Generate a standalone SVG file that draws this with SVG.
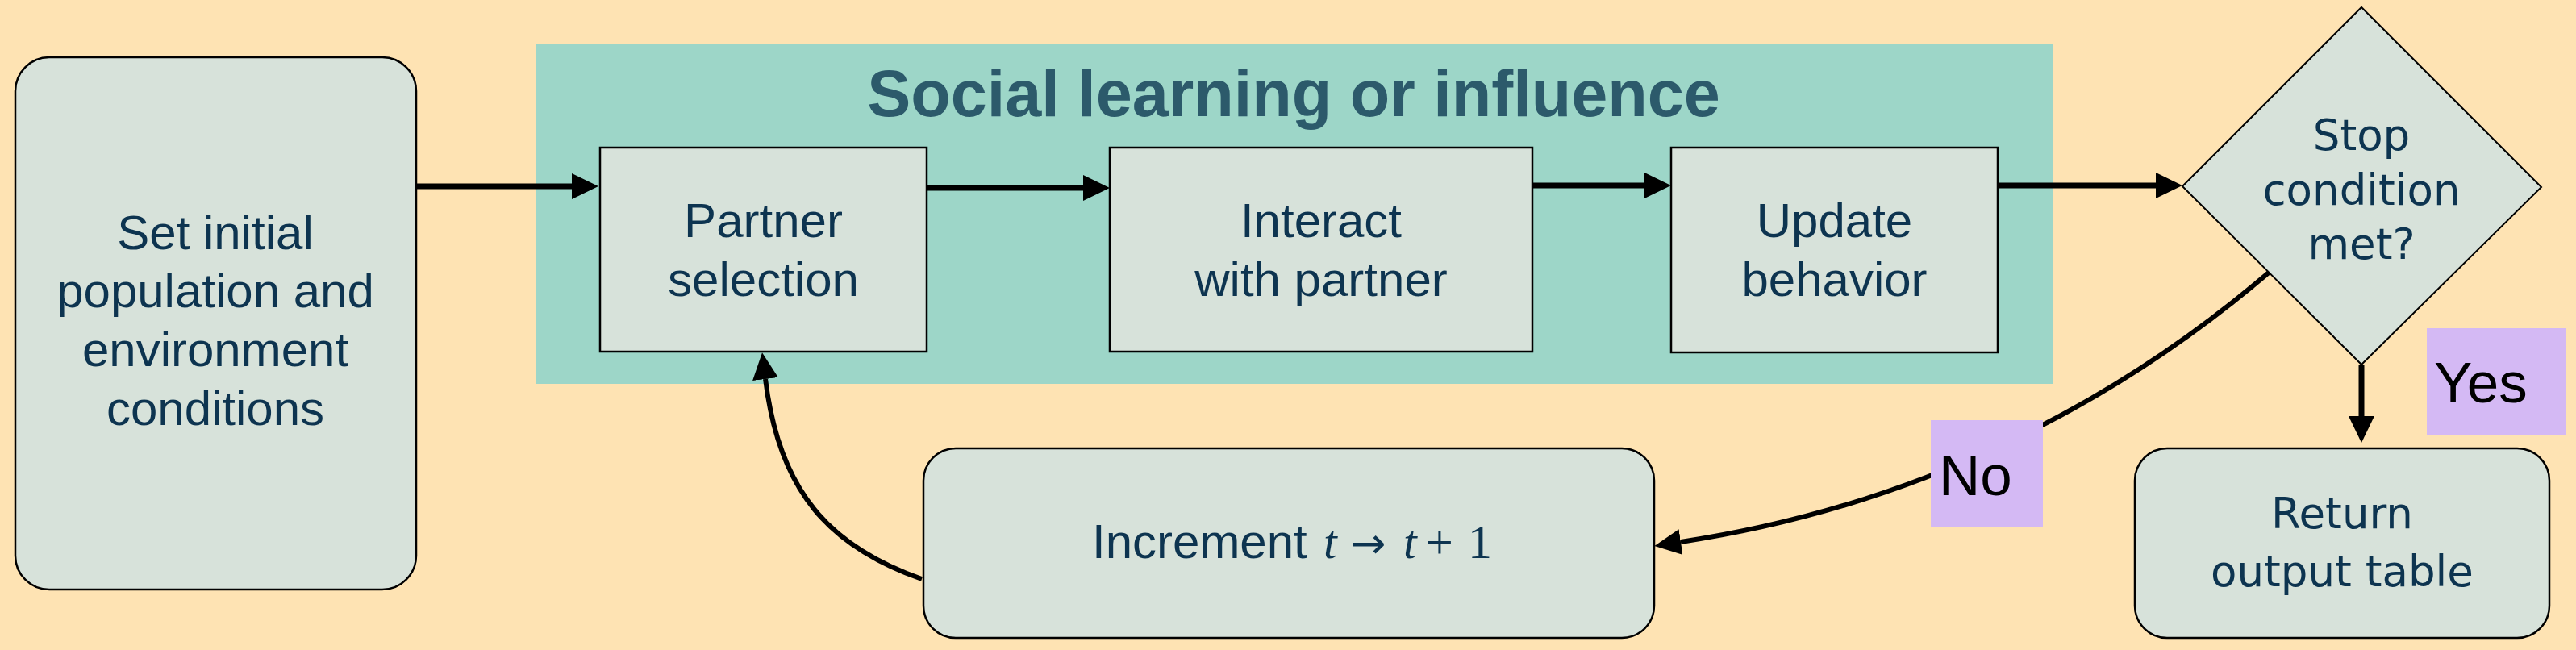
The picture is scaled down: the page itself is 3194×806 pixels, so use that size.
<svg xmlns="http://www.w3.org/2000/svg" width="3194" height="806" viewBox="0 0 3194 806">
<style>
  .bg { fill:#fee3b3; }
  .cluster { fill:#9dd6c8; }
  .title { font-family:"Liberation Sans", Arial, sans-serif; font-weight:bold; font-size:81px; fill:#2c5a6b; text-anchor:middle; }
  .box { fill:#d7e2da; stroke:#000; stroke-width:2.5; }
  .rbox { fill:#d7e2da; stroke:#000; stroke-width:2.5; }
  .lbl { font-family:"Liberation Sans", Arial, sans-serif; font-size:60px; fill:#0d3450; text-anchor:middle; }
  .lbl2 { font-family:"DejaVu Sans", Verdana, sans-serif; font-size:53px; fill:#0d3450; text-anchor:middle; }
  .math { font-family:"Liberation Serif", "Times New Roman", serif; font-size:60px; fill:#0d3450; }
  .edge { fill:none; stroke:#000; stroke-width:7; marker-end:url(#ah); }
  .curve { fill:none; stroke:#000; stroke-width:6; marker-end:url(#ah); }
  .elbl { fill:#d4b9f4; }
  .elbltxt { font-family:"Liberation Sans", Arial, sans-serif; font-size:71px; fill:#000; }
</style>
<defs>
  <marker id="ah" markerUnits="userSpaceOnUse" markerWidth="33" markerHeight="32" viewBox="0 0 33 32" refX="0" refY="16" orient="auto">
    <path d="M0,0 L33,16 L0,32 z" fill="#000"/>
  </marker>
</defs>

<rect class="bg" x="0" y="0" width="3194" height="806"/>

<g id="cluster-social">
  <rect class="cluster" x="664" y="55" width="1881" height="421"/>
  <text class="title" x="1604" y="144">Social learning or influence</text>
</g>

<g id="connectors">
  <path class="edge" d="M516,231 H709"/>
  <path class="edge" d="M1149,233 H1343"/>
  <path class="edge" d="M1900,230 H2039"/>
  <path class="edge" d="M2477,230 H2673"/>
  <path class="edge" d="M2928,452 V516"/>
  <path class="curve" d="M2813,338 C2623,500 2381,627 2084,672"/>
  <path class="curve" d="M1143,718 C1029,678 966,610 949,470"/>
</g>

<g id="node-start">
  <rect class="rbox" x="19" y="71" width="497" height="660" rx="42" ry="42"/>
  <text class="lbl" x="267" y="309">Set initial</text>
  <text class="lbl" x="267" y="381">population and</text>
  <text class="lbl" x="267" y="454">environment</text>
  <text class="lbl" x="267" y="527">conditions</text>
</g>

<g id="node-partner">
  <rect class="box" x="744" y="183" width="405" height="253"/>
  <text class="lbl" x="946.5" y="294">Partner</text>
  <text class="lbl" x="946.5" y="367">selection</text>
</g>

<g id="node-interact">
  <rect class="box" x="1376" y="183" width="524" height="253"/>
  <text class="lbl" x="1638" y="294">Interact</text>
  <text class="lbl" x="1638" y="367">with partner</text>
</g>

<g id="node-update">
  <rect class="box" x="2072" y="183" width="405" height="254"/>
  <text class="lbl" x="2274.5" y="294">Update</text>
  <text class="lbl" x="2274.5" y="367">behavior</text>
</g>

<g id="node-decision">
  <polygon points="2706,231 2928,9 3151,232 2928,452" fill="#d7e2da" stroke="#000" stroke-width="2"/>
  <text class="lbl2" x="2928" y="186">Stop</text>
  <text class="lbl2" x="2928" y="254">condition</text>
  <text class="lbl2" x="2928" y="321">met?</text>
</g>

<g id="node-increment">
  <rect class="rbox" x="1145" y="556" width="906" height="235" rx="40" ry="40"/>
  <text class="lbl" x="1354" y="692" style="text-anchor:start">Increment</text>
  <text class="math" y="692"><tspan x="1641" font-style="italic">t</tspan><tspan x="1674" font-family="DejaVu Sans, sans-serif" font-size="53px">→</tspan><tspan x="1740" font-style="italic">t</tspan><tspan x="1768">+</tspan><tspan x="1820">1</tspan></text>
</g>

<g id="node-return">
  <rect class="rbox" x="2647" y="556" width="514" height="235" rx="40" ry="40"/>
  <text class="lbl2" x="2904" y="655">Return</text>
  <text class="lbl2" x="2904" y="727">output table</text>
</g>

<g id="label-yes">
  <rect class="elbl" x="3009" y="407" width="173" height="132"/>
  <text class="elbltxt" x="3018" y="499">Yes</text>
</g>

<g id="label-no">
  <rect class="elbl" x="2394" y="521" width="139" height="132"/>
  <text class="elbltxt" x="2404" y="614">No</text>
</g>
</svg>
